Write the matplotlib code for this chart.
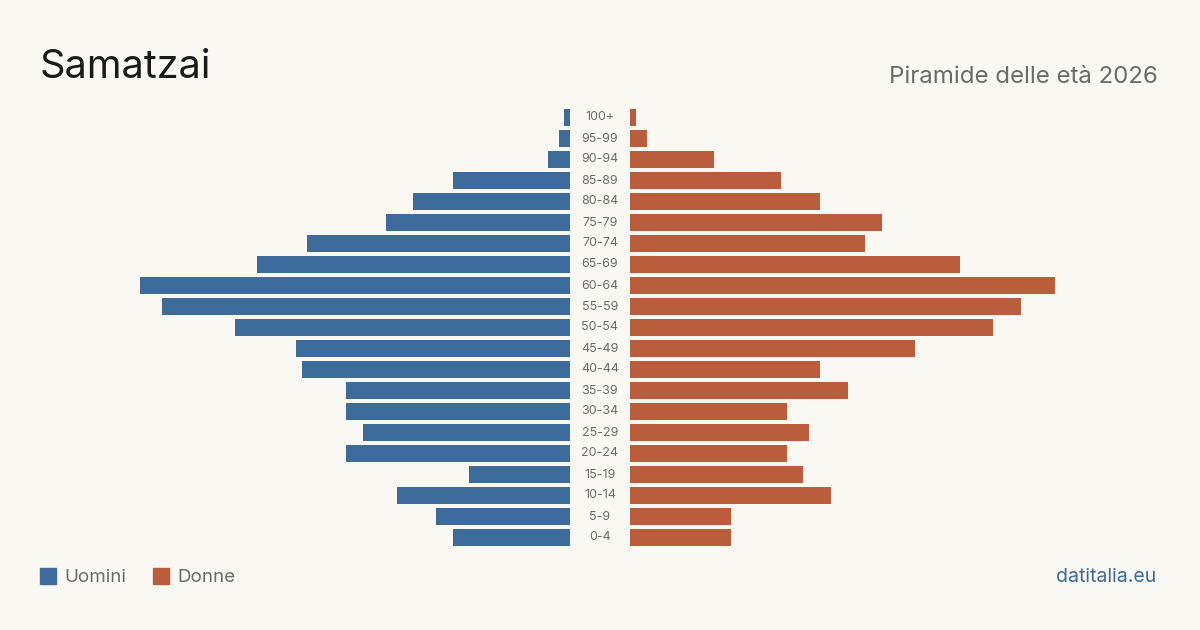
import matplotlib
matplotlib.use("Agg")
import matplotlib.pyplot as plt
from matplotlib.patches import Rectangle

age_groups = ["0-4", "5-9", "10-14", "15-19", "20-24", "25-29", "30-34", "35-39",
              "40-44", "45-49", "50-54", "55-59", "60-64", "65-69", "70-74",
              "75-79", "80-84", "85-89", "90-94", "95-99", "100+"]
males = [21, 24, 31, 18, 40, 37, 40, 40, 48, 49, 60, 73, 77, 56, 47, 33, 28, 21, 4, 2, 1]
females = [18, 18, 36, 31, 28, 32, 28, 39, 34, 51, 65, 70, 76, 59, 42, 45, 34, 27, 15, 3, 1]

title = "Samatzai"
subtitle = "Piramide delle età 2026"
legend_labels = ["Uomini", "Donne"]
source = "datitalia.eu"

BG = "#f9f8f3"
BLUE = "#3d6b9b"
ORANGE = "#b95d3d"
GRAY = "#6b6b6b"
FONT = ["Inter", "DejaVu Sans"]

W, H = 1200, 630
fig = plt.figure(figsize=(W / 100, H / 100), dpi=100, facecolor=BG)

px_per_unit = 5.59
row_px = 21.0
n = len(age_groups)
bottom_px = (H - 537.5) - 0.5 * row_px
height_px = n * row_px

left_x0, left_x1 = 40, 570
right_x0, right_x1 = 630, 1160

axL = fig.add_axes([left_x0 / W, bottom_px / H, (left_x1 - left_x0) / W, height_px / H])
axR = fig.add_axes([right_x0 / W, bottom_px / H, (right_x1 - right_x0) / W, height_px / H])

ypos = list(range(n))
axL.barh(ypos, males, height=0.8, color=BLUE)
axR.barh(ypos, females, height=0.8, color=ORANGE)
axL.set_xlim((left_x1 - left_x0) / px_per_unit, 0)
axR.set_xlim(0, (right_x1 - right_x0) / px_per_unit)
for ax in (axL, axR):
    ax.set_ylim(-0.5, n - 0.5)
    ax.axis("off")
    ax.set_facecolor("none")

# age labels in the centre gap
for i, lab in enumerate(age_groups):
    yf = (bottom_px + (i + 0.5) * row_px) / H
    fig.text(600 / W, yf, lab, ha="center", va="center", fontsize=9,
             color=GRAY, family=FONT)

fig.text(40 / W, 1 - 67 / H, title, ha="left", va="center", fontsize=28.5,
         color="#1a1a1a", family=FONT)
fig.text(1158 / W, 1 - 77 / H, subtitle, ha="right", va="center", fontsize=17.3,
         color=GRAY, family=FONT)

# legend
sq = 16
fig.patches.append(Rectangle((40 / W, 1 - 584 / H), sq / W, sq / H,
                             transform=fig.transFigure, color=BLUE))
fig.text(64 / W, 1 - 577 / H, legend_labels[0], ha="left", va="center",
         fontsize=13.5, color=GRAY, family=FONT)
fig.patches.append(Rectangle((153 / W, 1 - 584 / H), sq / W, sq / H,
                             transform=fig.transFigure, color=ORANGE))
fig.text(177 / W, 1 - 577 / H, legend_labels[1], ha="left", va="center",
         fontsize=13.5, color=GRAY, family=FONT)

fig.text(1156 / W, 1 - 577 / H, source, ha="right", va="center", fontsize=14,
         color=BLUE, family=FONT)

fig.savefig("out.png", dpi=100, facecolor=BG)
